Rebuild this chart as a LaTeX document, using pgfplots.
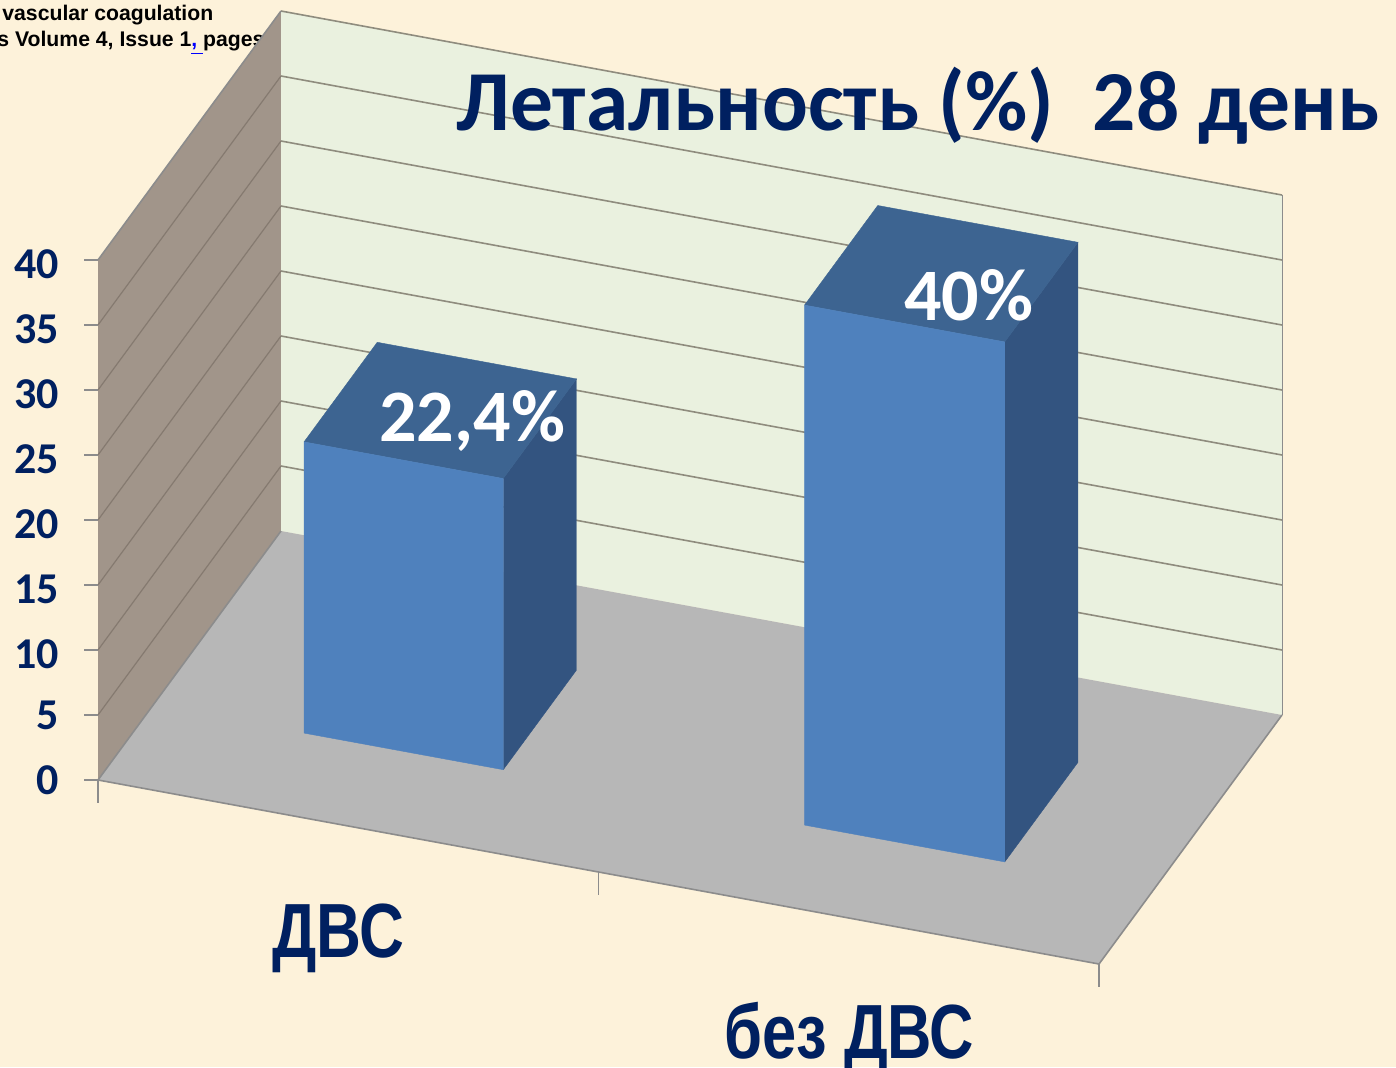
\documentclass[border=0pt]{standalone}
\usepackage{fontspec}
\setmainfont{Carlito}
\newfontfamily\arialf{Liberation Sans}
\usepackage{graphicx}
\usepackage{pgfplots}
\pgfplotsset{compat=1.18}
\definecolor{bgc}{HTML}{FDF2DA}
\definecolor{wallside}{HTML}{A1958A}
\definecolor{wallback}{HTML}{EAF1DF}
\definecolor{floorc}{HTML}{B7B7B7}
\definecolor{barfront}{HTML}{4F81BD}
\definecolor{bartop}{HTML}{3D6491}
\definecolor{barside}{HTML}{335480}
\definecolor{navy}{HTML}{002060}
\definecolor{gridb}{HTML}{8F8C7E}
\definecolor{grids}{HTML}{857A70}
\definecolor{edgec}{HTML}{8C8C8C}
\begin{document}
\begin{tikzpicture}
\useasboundingbox (0,0) rectangle (698pt,533.5pt);
\clip (0,0) rectangle (698pt,533.5pt);
\fill[bgc] (0,0) rectangle (698pt,533.5pt);
\begin{scope}[x=0.5pt,y=-0.5pt,yshift=533.5pt]
\node[anchor=base west,inner sep=0pt,font=\arialf\bfseries\fontsize{10.6pt}{12pt}\selectfont] at (2,21) {vascular coagulation};
\node[anchor=base west,inner sep=0pt,font=\arialf\bfseries\fontsize{10.6pt}{12pt}\selectfont] at (-3,47) {s Volume 4, Issue 1\textcolor{blue}{\underline{, }}pages};
\end{scope}
\begin{axis}[
  x={(250.25pt,-46pt)}, y={(91.5pt,124.5pt)}, z={(0pt,6.5pt)},
  at={(49pt,143.5pt)}, anchor=origin,
  xmin=0,xmax=2,ymin=0,ymax=1,zmin=0,zmax=40,
  clip=false,
  axis line style={draw=none},
  tick style={draw=none},
  tick align=outside,
  xtick={0,1,2}, xticklabels={},
  ytick=\empty,
  ztick={0,5,...,40},
  zticklabel style={font=\bfseries\fontsize{22pt}{22pt}\selectfont,text=navy,xshift=-13.5pt,yshift=7pt},
  /pgf/number format/assume math mode=true,
]
% side wall
\addplot3[fill=wallside,draw=none] coordinates {(0,0,0)(0,1,0)(0,1,40)(0,0,40)(0,0,0)};
% back wall
\addplot3[fill=wallback,draw=none] coordinates {(0,1,0)(2,1,0)(2,1,40)(0,1,40)(0,1,0)};
% grid on walls
\addplot3[grids,line width=0.6pt] coordinates {(0,0,5)(0,1,5)};
\addplot3[grids,line width=0.6pt] coordinates {(0,0,10)(0,1,10)};
\addplot3[grids,line width=0.6pt] coordinates {(0,0,15)(0,1,15)};
\addplot3[grids,line width=0.6pt] coordinates {(0,0,20)(0,1,20)};
\addplot3[grids,line width=0.6pt] coordinates {(0,0,25)(0,1,25)};
\addplot3[grids,line width=0.6pt] coordinates {(0,0,30)(0,1,30)};
\addplot3[grids,line width=0.6pt] coordinates {(0,0,35)(0,1,35)};
\addplot3[gridb,line width=0.8pt] coordinates {(0,1,5)(2,1,5)};
\addplot3[gridb,line width=0.8pt] coordinates {(0,1,10)(2,1,10)};
\addplot3[gridb,line width=0.8pt] coordinates {(0,1,15)(2,1,15)};
\addplot3[gridb,line width=0.8pt] coordinates {(0,1,20)(2,1,20)};
\addplot3[gridb,line width=0.8pt] coordinates {(0,1,25)(2,1,25)};
\addplot3[gridb,line width=0.8pt] coordinates {(0,1,30)(2,1,30)};
\addplot3[gridb,line width=0.8pt] coordinates {(0,1,35)(2,1,35)};
\addplot3[gridb,line width=0.8pt] coordinates {(0,1,40)(2,1,40)};
\addplot3[edgec,line width=0.8pt] coordinates {(0,0,40)(0,1,40)};
\addplot3[edgec,line width=0.5pt] coordinates {(2,1,0)(2,1,40)};
% floor
\addplot3[fill=floorc,draw=none] coordinates {(0,0,0)(2,0,0)(2,1,0)(0,1,0)(0,0,0)};
\addplot3[edgec,line width=0.8pt] coordinates {(0,1,0)(0,0,0)(2,0,0)(2,1,0)};
% bar 1: 22.4
\addplot3[fill=barside,draw=barside,line width=0.2pt] coordinates {(0.7,0.3,0)(0.7,0.7,0)(0.7,0.7,22.4)(0.7,0.3,22.4)(0.7,0.3,0)};
\addplot3[fill=bartop,draw=bartop,line width=0.2pt] coordinates {(0.302,0.3,22.4)(0.7,0.3,22.4)(0.7,0.7,22.4)(0.302,0.7,22.4)(0.302,0.3,22.4)};
\addplot3[fill=barfront,draw=barfront,line width=0.2pt] coordinates {(0.302,0.3,0)(0.7,0.3,0)(0.7,0.3,22.4)(0.302,0.3,22.4)(0.302,0.3,0)};
% bar 2: 40
\addplot3[fill=barside,draw=barside,line width=0.2pt] coordinates {(1.702,0.3,0)(1.702,0.7,0)(1.702,0.7,40)(1.702,0.3,40)(1.702,0.3,0)};
\addplot3[fill=bartop,draw=bartop,line width=0.2pt] coordinates {(1.302,0.3,40)(1.702,0.3,40)(1.702,0.7,40)(1.302,0.7,40)(1.302,0.3,40)};
\addplot3[fill=barfront,draw=barfront,line width=0.2pt] coordinates {(1.302,0.3,0)(1.702,0.3,0)(1.702,0.3,40)(1.302,0.3,40)(1.302,0.3,0)};
% tick marks
\foreach \v in {0,5,...,40} {
  \edef\temp{\noexpand\draw[edgec,line width=0.8pt] (axis cs:0,0,\v) -- ++(-7pt,0pt);}
  \temp
}
\draw[edgec,line width=0.8pt] (axis cs:0,0,0) -- ++(0pt,-11.5pt);
\draw[edgec,line width=0.8pt] (axis cs:1,0,0) -- ++(0pt,-11.5pt);
\draw[edgec,line width=0.8pt] (axis cs:2,0,0) -- ++(0pt,-11.5pt);
\end{axis}
\begin{scope}[x=0.5pt,y=-0.5pt,yshift=533.5pt]
\node[anchor=base west,inner sep=0pt,text=navy,font=\bfseries\fontsize{42.7pt}{42.7pt}\selectfont] at (456,131) {Летальность (\%)\ \ 28 день};
\node[anchor=base west,inner sep=0pt,text=white,font=\bfseries\fontsize{37pt}{37pt}\selectfont] at (379,442) {22,4\%};
\node[anchor=base west,inner sep=0pt,text=white,font=\bfseries\fontsize{37pt}{37pt}\selectfont] at (904,321) {40\%};
\node[anchor=base west,inner sep=0pt,text=navy,font=\arialf\bfseries\fontsize{38.4pt}{38pt}\selectfont] at (272,957) {\scalebox{0.81}[1]{ДВС}};
\node[anchor=base west,inner sep=0pt,text=navy,font=\arialf\bfseries\fontsize{38.4pt}{38pt}\selectfont] at (724,1058) {\scalebox{0.80}[1]{без ДВС}};
\end{scope}
\end{tikzpicture}
\end{document}
